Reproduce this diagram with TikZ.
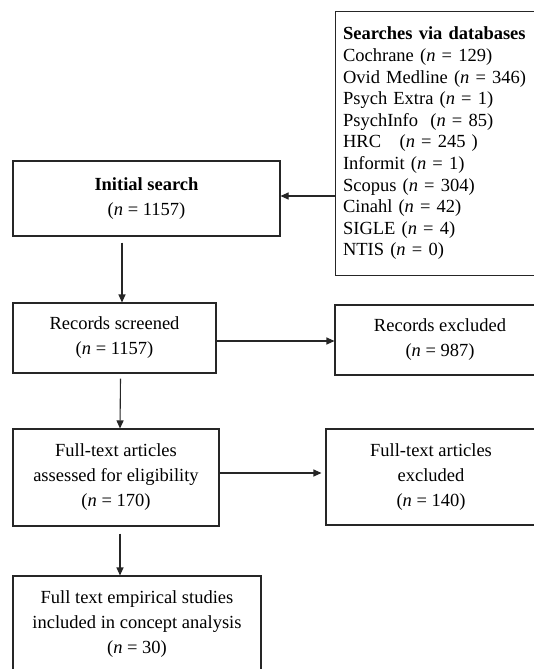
\documentclass[tikz,border=0pt]{standalone}
\usepackage{fontspec}
\setmainfont{Liberation Serif}
\usetikzlibrary{arrows.meta}
\begin{document}
\begin{tikzpicture}[x=1pt,y=-1pt,
  box/.style={draw=black!85, line width=1.1pt, align=center, inner sep=0pt,
    font=\fontsize{18.5}{25}\selectfont},
  arr/.style={draw=black!85, line width=1.1pt, -{Triangle[length=8pt,width=7pt]}}]
\useasboundingbox (0,0) rectangle (534,669);
\clip (0,0) rectangle (534,669);
\fill[white] (0,0) rectangle (534,669);

\node (db) [draw=black!85, line width=1.1pt, anchor=north west, minimum width=235pt,
  minimum height=264pt, text width=220pt, inner xsep=7pt, inner ysep=0pt, align=left,
  font=\fontsize{18.5}{21.6}\selectfont] at (335,11)
  {\textbf{Searches via databases}\\
   Cochrane (\textit{n} = 129)\\
   Ovid Medline (\textit{n} = 346)\\
   Psych Extra (\textit{n} = 1)\\
   PsychInfo\ \ (\textit{n} = 85)\\
   HRC\ \ \ (\textit{n} = 245 )\\
   Informit (\textit{n} = 1)\\
   Scopus (\textit{n} = 304)\\
   Cinahl (\textit{n} = 42)\\
   SIGLE (\textit{n} = 4)\\
   NTIS (\textit{n} = 0)};

\node (init) [box, minimum width=267pt, minimum height=75pt] at (146.5,198.5)
  {\textbf{Initial search}\\(\textit{n} = 1157)};
\node (scr) [box, minimum width=203pt, minimum height=70pt] at (114.5,338)
  {Records screened\\(\textit{n} = 1157)};
\node (exc) [box, minimum width=210pt, minimum height=70pt] at (440,340)
  {Records excluded\\(\textit{n} = 987)};
\node (ft) [box, minimum width=206pt, minimum height=97pt] at (116,477.5)
  {Full-text articles\\assessed for eligibility\\(\textit{n} = 170)};
\node (fte) [box, minimum width=210pt, minimum height=96pt] at (431,477)
  {Full-text articles\\excluded\\(\textit{n} = 140)};
\node (fin) [box, minimum width=248pt, minimum height=96pt] at (137,624)
  {Full text empirical studies\\included in concept analysis\\(\textit{n} = 30)};

\draw[arr] (db.west |- 0,196) -- (init.east |- 0,196);
\draw[arr] ([xshift=-24.5pt,yshift=-6pt]init.south) -- ([xshift=7.5pt]scr.north);
\draw[arr] ([xshift=6pt,yshift=-5pt]scr.south) -- ([xshift=4pt]ft.north);
\draw[arr] ([xshift=4pt,yshift=-7pt]ft.south) -- ([xshift=-17pt]fin.north);
\draw[arr] (scr.east |- 0,341) -- (exc.west |- 0,341);
\draw[arr] (ft.east |- 0,473) -- ([xshift=-4pt]fte.west |- 0,473);
\end{tikzpicture}
\end{document}
